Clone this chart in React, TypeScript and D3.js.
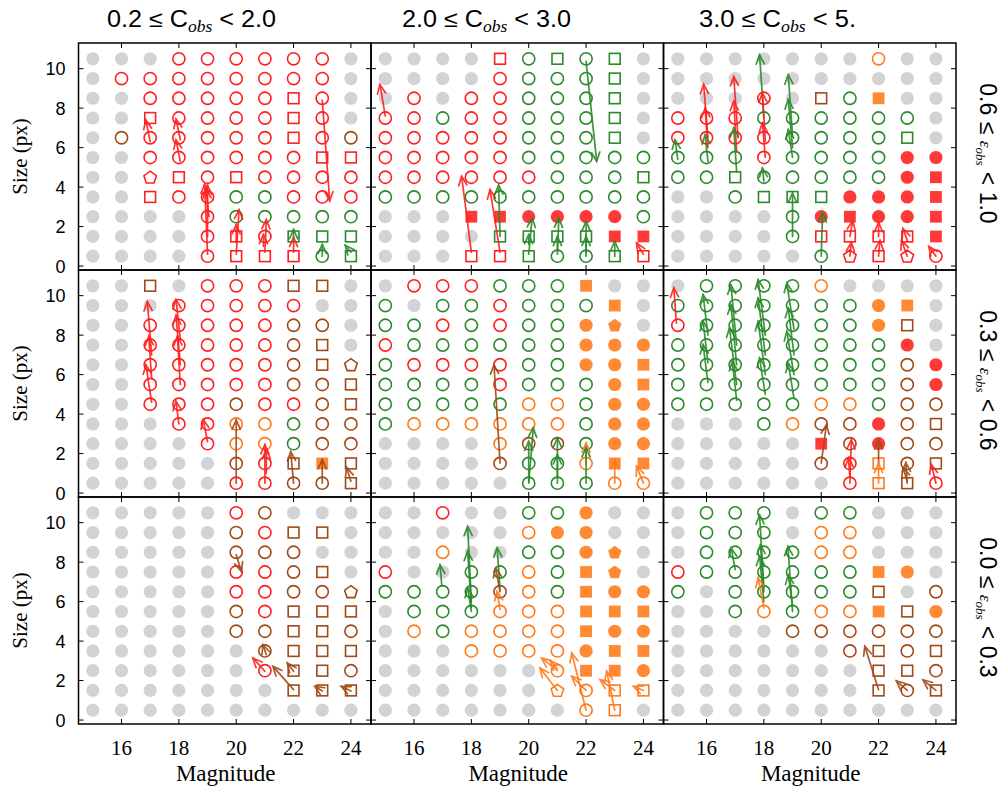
import React from "react";
import * as d3 from "d3";

// ---------- data ----------
const magnitudes = [15, 16, 17, 18, 19, 20, 21, 22, 23, 24];
const sizeRows = [10.5, 9.5, 8.5, 7.5, 6.5, 5.5, 4.5, 3.5, 2.5, 1.5, 0.5];
const xTicks = [16, 18, 20, 22, 24];
const yTicks = [0, 2, 4, 6, 8, 10];
const colTitles = [["0.2", "2.0"], ["2.0", "3.0"], ["3.0", "5."]];
const rowTitles = [["0.6", "1.0"], ["0.3", "0.6"], ["0.0", "0.3"]];

// cell codes: ".." grey, colour (r,g,o,b) + shape (o circle, s square, p pentagon; upper case = filled)
const grid_e06_c02 = [
  ".. .. .. ro ro ro ro ro ro ..",
  ".. ro ro ro ro ro ro ro ro ..",
  ".. .. ro ro ro ro ro rs ro ..",
  ".. .. rs ro ro ro ro rs ro ..",
  ".. bo ro ro ro ro ro rs ro bo",
  ".. .. ro ro ro ro ro ro rs rs",
  ".. .. rp rs ro rs ro ro ro ro",
  ".. .. rs ro ro go go ro ro ro",
  ".. .. .. .. ro go go go go go",
  ".. .. .. .. ro rs ro gs gs gs",
  ".. .. .. .. ro rs rs rs go gs",
];
const grid_e06_c20 = [
  ".. .. .. .. rs go gs go gs ..",
  ".. .. .. .. ro go go go gs ..",
  ".. ro .. ro ro go go go gs ..",
  "ro ro go ro ro go go go gs ..",
  "ro ro ro ro ro go go go gs ..",
  "ro ro ro ro ro go go go go go",
  "ro ro ro ro ro ro go go go gs",
  "go go go go go go go go go go",
  ".. .. .. rS rS rO rO rO rO go",
  ".. .. .. .. gs gs gs gs rS rS",
  ".. .. .. rs rs gs go go gs rs",
];
const grid_e06_c30 = [
  ".. .. .. .. .. .. .. oo .. ..",
  ".. .. .. .. .. .. .. .. .. ..",
  ".. .. .. ro .. bs go oS .. ..",
  "ro ro ro go go go go go go ..",
  "ro ro ro ro go go go go gs ..",
  "go go go ro go go go go rO rO",
  "go go gs go go go go go rO rS",
  ".. .. go gs gs gs rO rO rO rS",
  ".. .. .. .. go rO rS rO rO rS",
  ".. .. .. .. go rs rs rs rs rS",
  ".. .. .. .. .. go rp rs rp ro",
];
const grid_e03_c02 = [
  ".. .. bs .. ro ro ro bs bs ..",
  ".. .. .. ro ro ro ro ro .. ..",
  ".. .. ro ro ro ro ro bo bo ..",
  ".. .. ro ro ro ro ro bo bs ..",
  ".. .. ro ro ro ro ro bo bs bp",
  ".. .. ro ro ro ro ro bo bo bs",
  ".. .. ro ro ro bo ro ro bo bs",
  ".. .. .. ro ro oo oo go bo bo",
  ".. .. .. .. ro oo oo go bo bo",
  ".. .. .. .. .. bo ro bs oS bs",
  ".. .. .. .. .. ro ro bo bo bs",
];
const grid_e03_c20 = [
  ".. ro ro ro go go go oS .. ..",
  "go .. go go ro go go go oS ..",
  "go go ro go ro go go oO oP ..",
  "ro go go go go go go oO oO oO",
  "go ro ro ro ro go go oO oO oS",
  "go go go go ro go go go oO oS",
  "go go go go go oo oo go oO oO",
  "go oo oo oo oo oo oo go oO oO",
  ".. .. .. .. oo bo bo go oO oO",
  ".. .. .. .. bo go go oo oS oS",
  ".. .. .. .. .. go go go oo oo",
];
const grid_e03_c30 = [
  ".. go go go go oo .. .. .. ..",
  "go go go go go go go oO oS ..",
  "ro go go go go go go oO bs ..",
  "go go go go go go go go rO ..",
  "go go go go go go go go bo rO",
  "go go go go go go go go bo rO",
  "go go go go go oo oo go bo bo",
  ".. .. .. go oo bo bo rO bo bs",
  ".. .. .. .. .. rS bo rO bo bo",
  ".. .. .. .. .. bo ro os bo bs",
  ".. .. .. .. .. .. ro os bs ro",
];
const grid_e00_c02 = [
  ".. .. .. .. .. ro bo .. .. ..",
  ".. .. .. .. .. bo ro bs bs ..",
  ".. .. .. .. .. bo bo bo .. ..",
  ".. .. .. .. .. ro ro bo bs ..",
  ".. .. .. .. .. ro ro bo bo bp",
  ".. .. .. .. .. bo ro bs bs bs",
  ".. .. .. .. .. bo bo bs bs bo",
  ".. .. .. .. .. .. bo bs bs bs",
  ".. .. .. .. .. .. ro bs bs bo",
  ".. .. .. .. .. .. .. bs bs bs",
  ".. .. .. .. .. .. .. .. .. ..",
];
const grid_e00_c20 = [
  ".. .. ro .. .. go go oO .. ..",
  ".. .. .. .. .. oo oO oO .. ..",
  ".. .. oo .. .. go go oO oP ..",
  "ro .. .. go go oo go oS oP ..",
  "go go go go bo oo go oS oO oO",
  ".. go go go oo oo oo oS oS oS",
  ".. oo go oo oo oo oo oS oO oO",
  ".. .. .. oo oo oo oo oO oS oS",
  ".. .. .. .. .. .. oo oS oS oO",
  ".. .. .. .. .. .. op oo os os",
  ".. .. .. .. .. .. .. oo os ..",
];
const grid_e00_c30 = [
  ".. go go go .. go go .. .. ..",
  ".. go go go .. oo oo .. .. ..",
  ".. go go go go oo oo .. .. ..",
  "ro go go go go go go oS oO ..",
  "go .. go go go go go bs .. bo",
  ".. .. go oo go oo oo oS bs oO",
  ".. .. .. .. bo bo bo bo bo bo",
  ".. .. .. .. .. .. bo bs bo bs",
  ".. .. .. .. .. .. .. bs bs bo",
  ".. .. .. .. .. .. .. bs bo bs",
  ".. .. .. .. .. .. .. .. .. ..",
];

// arrows: [colour, magFrom, sizeFrom, magTo, sizeTo]
type Arrow = [string, number, number, number, number];
const arrows_e06_c02: Arrow[] = [
  ["r", 17.0, 6.3, 16.85, 7.4], ["r", 18.05, 6.4, 17.9, 7.45], ["r", 18.05, 5.3, 17.9, 6.4],
  ["r", 19.0, 0.6, 18.9, 4.15], ["r", 19.0, 1.5, 19.0, 4.1], ["r", 19.05, 2.5, 18.95, 3.9],
  ["r", 20.0, 0.6, 20.1, 2.85], ["r", 20.0, 1.2, 20.0, 2.1], ["r", 21.0, 0.7, 21.05, 2.35],
  ["r", 20.95, 1.0, 20.95, 1.6], ["r", 22.0, 0.7, 22.0, 1.45], ["g", 22.0, 1.4, 22.0, 1.85],
  ["g", 23.0, 0.5, 23.0, 1.1], ["g", 24.0, 0.7, 23.8, 1.05], ["r", 23.0, 8.4, 23.26, 3.3],
];
const arrows_e06_c20: Arrow[] = [
  ["r", 15.0, 7.6, 14.81, 9.2], ["r", 18.0, 0.7, 17.66, 4.55], ["r", 19.0, 0.7, 18.65, 3.87],
  ["g", 19.0, 1.5, 18.95, 4.1], ["g", 20.0, 0.6, 20.12, 2.43], ["g", 20.0, 1.1, 20.0, 1.6],
  ["g", 21.0, 0.6, 21.05, 2.43], ["g", 21.0, 0.8, 21.0, 1.5], ["g", 22.0, 0.5, 22.0, 2.26],
  ["g", 22.0, 0.7, 22.0, 1.5], ["g", 23.0, 0.5, 23.0, 1.25], ["r", 24.0, 0.6, 23.76, 1.17],
  ["g", 22.0, 10.37, 22.37, 5.3],
];
const arrows_e06_c30: Arrow[] = [
  ["g", 15.0, 5.4, 14.9, 6.4], ["r", 16.05, 6.5, 15.9, 9.2], ["r", 16.05, 6.0, 15.95, 8.0],
  ["g", 16.05, 5.3, 15.95, 6.65], ["r", 17.1, 6.5, 16.95, 9.6], ["r", 17.05, 5.8, 16.95, 8.35],
  ["g", 17.05, 4.8, 16.95, 7.0], ["g", 18.0, 7.5, 17.85, 10.7], ["r", 18.05, 6.3, 17.95, 8.77],
  ["r", 18.05, 5.5, 17.95, 7.25], ["g", 18.0, 4.3, 17.95, 4.97], ["g", 19.0, 6.6, 18.85, 9.69],
  ["g", 19.0, 6.0, 18.85, 8.43], ["g", 19.0, 5.5, 18.85, 6.91], ["g", 19.0, 1.5, 19.0, 3.7],
  ["g", 20.0, 0.5, 20.05, 2.7], ["r", 21.0, 1.5, 21.1, 2.3], ["r", 21.0, 0.5, 21.05, 1.2],
  ["r", 22.0, 1.5, 22.0, 2.2], ["r", 22.0, 0.5, 22.05, 1.3], ["r", 23.0, 1.3, 22.85, 1.9],
  ["r", 23.0, 0.5, 22.8, 1.3], ["r", 24.0, 0.5, 23.75, 1.0],
];
const arrows_e03_c02: Arrow[] = [
  ["r", 17.05, 4.6, 16.85, 6.5], ["r", 17.05, 5.8, 16.95, 7.95], ["r", 17.05, 7.0, 16.9, 9.7],
  ["r", 18.05, 7.8, 17.9, 9.8], ["r", 18.05, 6.5, 17.9, 9.0], ["r", 18.05, 5.5, 17.95, 7.95],
  ["r", 18.0, 3.5, 17.9, 4.65], ["r", 19.0, 2.6, 18.85, 3.72], ["b", 20.0, 0.5, 20.0, 3.7],
  ["r", 21.0, 0.5, 21.0, 2.45], ["r", 21.05, 1.0, 21.05, 2.2], ["b", 22.0, 0.5, 21.9, 2.1],
  ["b", 23.0, 0.5, 23.0, 1.7], ["b", 24.0, 0.6, 23.85, 1.3],
];
const arrows_e03_c20: Arrow[] = [
  ["b", 19.0, 1.52, 18.79, 6.5], ["g", 20.0, 0.5, 20.16, 3.3], ["g", 20.0, 0.6, 20.0, 2.62],
  ["g", 21.0, 0.5, 21.0, 2.79], ["g", 21.0, 0.8, 21.0, 1.94], ["o", 22.0, 1.5, 22.0, 2.54],
  ["g", 22.0, 0.5, 22.0, 2.3], ["o", 23.0, 0.5, 23.0, 1.69], ["o", 24.0, 0.5, 23.76, 1.35],
];
const arrows_e03_c30: Arrow[] = [
  ["r", 14.95, 8.61, 14.86, 10.39], ["g", 16.05, 8.0, 15.88, 10.05], ["g", 16.05, 6.6, 15.88, 8.7],
  ["g", 16.05, 5.6, 15.88, 7.52], ["g", 17.05, 7.5, 16.85, 10.55], ["g", 17.05, 6.5, 16.85, 9.54],
  ["g", 17.05, 5.5, 16.8, 8.36], ["g", 17.05, 4.7, 16.9, 6.67], ["g", 18.05, 8.0, 17.8, 10.81],
  ["g", 18.05, 7.0, 17.8, 9.88], ["g", 18.05, 6.0, 17.8, 8.7], ["g", 18.05, 5.0, 17.85, 6.84],
  ["g", 19.05, 8.3, 18.8, 10.64], ["g", 19.05, 7.0, 18.85, 9.37], ["g", 19.05, 6.0, 18.8, 8.19],
  ["g", 19.05, 4.8, 18.85, 6.59], ["b", 20.0, 1.52, 20.18, 3.46], ["r", 21.0, 0.5, 21.05, 2.7],
  ["r", 21.0, 0.8, 20.95, 1.78], ["b", 22.0, 1.5, 22.0, 2.7], ["o", 22.0, 0.5, 22.0, 1.5],
  ["b", 23.0, 0.5, 22.95, 1.55], ["b", 23.0, 0.6, 22.85, 1.3], ["r", 24.0, 0.5, 23.84, 1.44],
];
const arrows_e00_c02: Arrow[] = [
  ["b", 20.0, 8.38, 20.18, 7.53], ["b", 21.05, 3.31, 20.93, 3.82], ["r", 21.0, 2.47, 20.58, 3.14],
  ["b", 22.0, 1.54, 21.28, 2.72], ["b", 22.0, 2.47, 21.78, 2.89], ["b", 23.0, 1.47, 22.74, 1.71],
  ["b", 24.0, 1.47, 23.66, 1.71],
];
const arrows_e00_c20: Arrow[] = [
  ["g", 16.97, 6.78, 16.91, 7.87], ["g", 18.0, 6.0, 17.87, 9.81], ["g", 18.0, 5.7, 17.87, 8.55],
  ["g", 18.0, 5.5, 17.87, 6.69], ["g", 19.0, 6.6, 18.9, 8.72], ["b", 19.0, 6.5, 18.85, 7.7],
  ["o", 19.0, 5.6, 18.9, 6.52], ["o", 21.0, 1.5, 20.39, 2.64], ["o", 21.0, 2.5, 20.45, 3.14],
  ["o", 21.0, 2.6, 20.75, 3.0], ["o", 22.0, 0.5, 21.5, 3.4], ["o", 22.0, 1.5, 21.5, 2.22],
  ["o", 23.0, 0.5, 22.72, 2.47], ["o", 23.0, 1.5, 22.49, 2.04], ["o", 24.0, 1.5, 23.65, 1.71],
];
const arrows_e00_c30: Arrow[] = [
  ["g", 17.0, 7.62, 16.86, 8.72], ["g", 18.0, 6.7, 17.85, 10.39], ["g", 18.0, 6.5, 17.88, 8.88],
  ["g", 18.0, 6.0, 17.85, 8.3], ["o", 18.0, 5.68, 17.8, 7.2], ["g", 19.0, 5.5, 18.84, 8.8],
  ["g", 19.0, 5.8, 18.85, 7.36], ["b", 22.0, 1.54, 21.52, 3.74], ["b", 23.0, 1.5, 22.62, 1.99],
  ["b", 24.0, 1.5, 23.55, 2.04],
];

const grids = [
  [grid_e06_c02, grid_e06_c20, grid_e06_c30],
  [grid_e03_c02, grid_e03_c20, grid_e03_c30],
  [grid_e00_c02, grid_e00_c20, grid_e00_c30],
];
const arrowSets = [
  [arrows_e06_c02, arrows_e06_c20, arrows_e06_c30],
  [arrows_e03_c02, arrows_e03_c20, arrows_e03_c30],
  [arrows_e00_c02, arrows_e00_c20, arrows_e00_c30],
];

// ---------- styling ----------
const STROKE: Record<string, string> = { r: "#ff1f1f", g: "#2b8a2b", o: "#ff7a1a", b: "#a04a18" };
const FILL: Record<string, string> = { r: "#ff3838", g: "#2b8a2b", o: "#ff8a33", b: "#a04a18" };
const GREY = "#d3d3d3";
const LEFT = 78.5, COLW = 292.5, TOP = 43, ROWH = 227;
const SANS = "'Liberation Sans', Arial, sans-serif";
const SERIF = "'Liberation Serif', 'DejaVu Serif', serif";

function pentagon(cx: number, cy: number, R: number) {
  const pts = d3.range(5).map((i) => {
    const a = -Math.PI / 2 + (i * 2 * Math.PI) / 5;
    return [cx + R * Math.cos(a), cy + R * Math.sin(a)].join(",");
  });
  return pts.join(" ");
}

function Marker({ code, cx, cy }: { code: string; cx: number; cy: number }) {
  if (code === "..") return <circle cx={cx} cy={cy} r={6.6} fill={GREY} />;
  const col = code[0];
  const shape = code[1];
  const filled = shape === shape.toUpperCase();
  const s = shape.toLowerCase();
  const stroke = STROKE[col];
  const fill = filled ? FILL[col] : "none";
  const sw = 1.6;
  if (s === "o") return <circle cx={cx} cy={cy} r={filled ? 6.6 : 6.1} fill={fill} stroke={filled ? "none" : stroke} strokeWidth={sw} />;
  if (s === "s") {
    const h = filled ? 5.9 : 5.4;
    return <rect x={cx - h} y={cy - h} width={2 * h} height={2 * h} fill={fill} stroke={filled ? "none" : stroke} strokeWidth={sw} />;
  }
  return <polygon points={pentagon(cx, cy + 0.5, filled ? 7 : 6.6)} fill={fill} stroke={filled ? "none" : stroke} strokeWidth={sw} />;
}

function ArrowMark({ a, x, y }: { a: Arrow; x: d3.ScaleLinear<number, number>; y: d3.ScaleLinear<number, number> }) {
  const [c, m1, s1, m2, s2] = a;
  const x1 = x(m1), y1 = y(s1), x2 = x(m2), y2 = y(s2);
  const ang = Math.atan2(y2 - y1, x2 - x1);
  const L = 10, spread = 0.42;
  const hx1 = x2 - L * Math.cos(ang - spread), hy1 = y2 - L * Math.sin(ang - spread);
  const hx2 = x2 - L * Math.cos(ang + spread), hy2 = y2 - L * Math.sin(ang + spread);
  const col = STROKE[c];
  return (
    <g stroke={col} strokeWidth={1.7} fill="none" opacity={0.9} strokeLinecap="round">
      <line x1={x1} y1={y1} x2={x2} y2={y2} />
      <path d={`M${hx1},${hy1} L${x2},${y2} L${hx2},${hy2}`} />
    </g>
  );
}

function Panel({ r, c }: { r: number; c: number }) {
  const x0 = LEFT + c * COLW;
  const y0 = TOP + r * ROWH;
  const x = d3.scaleLinear().domain([14.5, 24.7]).range([x0, x0 + COLW]);
  const y = d3.scaleLinear().domain([-0.2, 11.3]).range([y0 + ROWH, y0]);
  const grid = grids[r][c];
  const arrows = arrowSets[r][c];
  return (
    <g>
      {grid.map((row, i) =>
        row.split(" ").map((code, j) => (
          <Marker key={`${i}-${j}`} code={code} cx={x(magnitudes[j])} cy={y(sizeRows[i])} />
        ))
      )}
      {arrows.map((a, k) => (
        <ArrowMark key={k} a={a} x={x} y={y} />
      ))}
      <rect x={x0} y={y0} width={COLW} height={ROWH} fill="none" stroke="#000" strokeWidth={1.5} />
      {yTicks.map((t) => (
        <g key={`y${t}`} stroke="#000" strokeWidth={1}>
          <line x1={x0} x2={x0 + 5} y1={y(t)} y2={y(t)} />
          <line x1={x0 + COLW - 5} x2={x0 + COLW} y1={y(t)} y2={y(t)} />
        </g>
      ))}
      {xTicks.map((t) => (
        <g key={`x${t}`} stroke="#000" strokeWidth={1}>
          <line x1={x(t)} x2={x(t)} y1={y0 + ROWH} y2={y0 + ROWH - 5} />
          <line x1={x(t)} x2={x(t)} y1={y0} y2={y0 + 5} />
        </g>
      ))}
      {c === 0 &&
        yTicks.map((t) => (
          <text key={`yl${t}`} x={x0 - 13} y={y(t)} dy="0.36em" textAnchor="end" fontFamily={SANS} fontSize={18}>
            {t}
          </text>
        ))}
      {r === 2 &&
        xTicks.map((t) => (
          <text key={`xl${t}`} x={x(t)} y={y0 + ROWH + 31} textAnchor="middle" fontFamily={SERIF} fontSize={21}>
            {t}
          </text>
        ))}
      {c === 0 && (
        <text transform={`translate(27,${y0 + ROWH / 2}) rotate(-90)`} textAnchor="middle" fontFamily={SERIF} fontSize={21}>
          Size (px)
        </text>
      )}
      {r === 2 && (
        <text x={x0 + COLW / 2 + 1} y={y0 + ROWH + 57} textAnchor="middle" fontFamily={SERIF} fontSize={23}>
          Magnitude
        </text>
      )}
      {r === 0 && (
        <text x={[107, 402, 699][c]} y={27} fontFamily={SANS} fontSize={23} textLength={[169, 169, 157][c]} lengthAdjust="spacingAndGlyphs">
          {colTitles[c][0]} ≤ C
          <tspan fontFamily={SERIF} fontStyle="italic" fontSize={16} dy={5}>obs</tspan>
          <tspan dy={-5}> {"<"} {colTitles[c][1]}</tspan>
        </text>
      )}
      {c === 2 && (
        <text transform={`translate(980,${y0 + ROWH / 2 - 3}) rotate(90)`} textAnchor="middle" fontFamily={SANS} fontSize={23}>
          {rowTitles[r][0]} ≤{" "}
          <tspan fontFamily={SERIF} fontStyle="italic" fontSize={17}>ε</tspan>
          <tspan fontFamily={SERIF} fontStyle="italic" fontSize={13} dy={4}>obs</tspan>
          <tspan dy={-4}> {"<"} {rowTitles[r][1]}</tspan>
        </text>
      )}
    </g>
  );
}

export default function App() {
  const rows = [0, 1, 2];
  const cols = [0, 1, 2];
  return (
    <svg width={1001} height={792} style={{ position: "absolute", left: 0, top: 0, background: "#fff" }}>
      <rect width={1001} height={792} fill="#fff" />
      {rows.map((r) => cols.map((c) => <Panel key={`${r}-${c}`} r={r} c={c} />))}
    </svg>
  );
}
